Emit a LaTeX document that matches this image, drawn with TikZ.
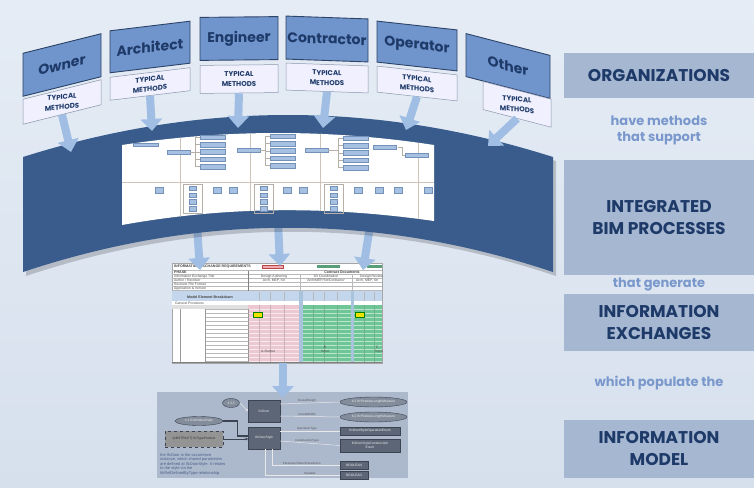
\documentclass[tikz,border=0pt]{standalone}
\usepackage{fontspec}
\setmainfont{Poppins}
\newfontfamily\arialf{Liberation Sans}
\usetikzlibrary{arrows.meta,shapes.geometric}
\definecolor{bgtop}{RGB}{229,236,245}
\definecolor{bgbot}{RGB}{214,224,237}
\definecolor{band}{RGB}{57,92,140}
\definecolor{orgfill}{RGB}{112,148,204}
\definecolor{orgline}{RGB}{45,68,105}
\definecolor{navy}{RGB}{30,58,105}
\definecolor{panelc}{RGB}{166,183,209}
\definecolor{conn}{RGB}{122,152,204}
\definecolor{arrowc}{RGB}{160,190,228}
\definecolor{mapbox}{RGB}{165,192,225}
\definecolor{mapedge}{RGB}{115,145,185}
\definecolor{mapline}{RGB}{205,195,185}
\definecolor{modelbg}{RGB}{172,184,204}
\definecolor{dkbox}{RGB}{92,102,118}
\definecolor{dkedge}{RGB}{60,68,82}
\definecolor{ellc}{RGB}{130,140,155}
\definecolor{pinkc}{RGB}{236,200,210}
\definecolor{greenc}{RGB}{110,198,150}
\definecolor{sepc}{RGB}{170,195,220}
\definecolor{hdrc}{RGB}{196,214,236}
\definecolor{gridc}{RGB}{185,185,185}
\begin{document}
\begin{tikzpicture}[x=1pt,y=-1pt,
  orgbox/.style={draw=orgline, line width=0.9pt, fill=orgfill, text=navy,
    font=\bfseries\fontsize{14}{16}\selectfont, inner sep=0pt, transform shape},
  methbox/.style={draw=orgline!55, line width=0.5pt, fill=white!94!blue, text=navy,
    font=\bfseries\fontsize{7}{10}\selectfont, align=center, inner sep=0pt, transform shape},
  methtext/.style={text=navy, font=\bfseries\fontsize{7}{10}\selectfont, align=center, inner sep=0pt, transform shape},
  bigarrow/.style={draw=arrowc, line width=8pt, -{Triangle[width=21pt,length=12pt]}},
  panel/.style={fill=panelc, text=navy, font=\bfseries\fontsize{17}{22}\selectfont,
    minimum width=190pt, inner sep=0pt, align=center},
  conntext/.style={text=conn, font=\bfseries\fontsize{13}{16}\selectfont, align=center, inner sep=0pt},
  tinyt/.style={font=\arialf\fontsize{3.4}{4}\selectfont, inner sep=0pt, text=black!70},
  tinyb/.style={font=\arialf\bfseries\fontsize{3.6}{4}\selectfont, inner sep=0pt, text=black!75},
  mell/.style={ellipse, draw=dkedge, fill=ellc, text=white!88!gray,
    font=\arialf\fontsize{3.3}{4}\selectfont, inner sep=0pt},
  mbox/.style={draw=dkedge, fill=dkbox, text=white!88!gray,
    font=\arialf\fontsize{3.3}{4}\selectfont, inner sep=0pt, align=center},
  mline/.style={draw=white!82!gray, line width=0.5pt},
  mlbl/.style={font=\arialf\fontsize{3}{3.5}\selectfont, text=black!65, inner sep=0.6pt},
  ]
\useasboundingbox (0,0) rectangle (754,487);
\shade[top color=bgtop, bottom color=bgbot] (0,0) rectangle (754,487);

% ---------- right column ----------
\node[panel, minimum height=45pt] (porg) at (659,75.5) {ORGANIZATIONS};
\node[panel, minimum height=115pt] (pbim) at (659,217.5) {INTEGRATED\\BIM PROCESSES};
\node[panel, minimum height=57pt] (pie) at (659,322.5) {INFORMATION\\EXCHANGES};
\node[panel, minimum height=58pt] (pim) at (659,449) {INFORMATION\\MODEL};
\node[conntext] (t1) at (659,130) {have methods\\that support};
\node[conntext] (t2) at (659,284) {that generate};
\node[conntext] (t3) at (659,383) {which populate the};

% ---------- spreadsheet ----------
\node[draw=gray!70, fill=white, minimum width=210pt, minimum height=100pt, inner sep=0pt] (ier) at (277,313) {};
\begin{scope}
\clip (172,263) rectangle (382,363);
\node[tinyb, anchor=west] (iert) at (174,266.8) {INFORMATION EXCHANGE REQUIREMENTS};
\filldraw[fill=pinkc!85!red, draw=red!45!gray, line width=0.3pt] (262,265.5) rectangle (283,268.3);
\filldraw[fill=greenc!80!black, draw=none] (317,265.3) rectangle (340,268.3);
\filldraw[fill=greenc!80!black, draw=none] (367,265.3) rectangle (385,268.3);
% header rows
\foreach \y in {270.5,274.5,278.5,282.5,286.5,290.5}
  \draw[gridc, line width=0.3pt] (172,\y) -- (382,\y);
\foreach \x in {248,300,352}
  \draw[gridc, line width=0.3pt] (\x,274.5) -- (\x,290.5);
\draw[gray, line width=0.4pt] (248,270.5) -- (248,290.5);
\node[tinyb, anchor=west] (ph) at (174,272.6) {PHASE};
\node[tinyt, anchor=west] (ph1) at (174,276.6) {Information Exchange Title};
\node[tinyt, anchor=west] (ph2) at (174,280.6) {Author / Receiver};
\node[tinyt, anchor=west] (ph3) at (174,284.6) {Receiver File Format};
\node[tinyt, anchor=west] (ph4) at (174,288.6) {Application \& Version};
\node[tinyb] (cd) at (342,272.6) {Contract Documents};
\node[tinyt] (c11) at (274,276.6) {Design Authoring};
\node[tinyt] (c12) at (326,276.6) {3D Coordination};
\node[tinyt, anchor=west] (c13) at (360,276.6) {Design Review};
\node[tinyt] (c21) at (274,280.6) {Arch, MEP, Str};
\node[tinyt] (c22) at (326,280.6) {Arch/MEP/Str/Contractor};
\node[tinyt, anchor=west] (c23) at (356,280.6) {Arch, MEP, Str};
% blue header row
\fill[hdrc] (172,290.5) rectangle (382,301);
\node[tinyb] (meb) at (210,297) {Model Element Breakdown};
\foreach \x in {259,270,284,313,324,337,364,374}
  \draw[gridc, line width=0.3pt] (\x,291.5) -- (\x,362);
\fill[white] (172,301) rectangle (382,305);
\node[tinyt, anchor=west] (gp) at (175,303.1) {General Provisions};
\fill[black!12] (172,305) rectangle (248,309);
% coloured areas
\fill[pinkc] (248,305) rectangle (299,362);
\fill[sepc] (299,291) rectangle (302.5,362);
\fill[greenc] (302.5,305) rectangle (350.5,362);
\fill[sepc] (350.5,291) rectangle (354,362);
\fill[greenc] (354,305) rectangle (382,362);
\foreach \y in {309,313,...,361}{
  \draw[white!60!pinkc, line width=0.3pt] (248,\y) -- (299,\y);
  \draw[white!55!greenc, line width=0.3pt] (302.5,\y) -- (350.5,\y);
  \draw[white!55!greenc, line width=0.3pt] (354,\y) -- (382,\y);
  \draw[gridc, line width=0.3pt] (205,\y) -- (248,\y);
}
\foreach \x in {259,270,284}
  \draw[pinkc!70!gray, line width=0.3pt] (\x,305) -- (\x,362);
\foreach \x in {313,324,337,364,374}
  \draw[greenc!70!gray, line width=0.3pt] (\x,305) -- (\x,362);
\foreach \x in {180,205,248}
  \draw[gray!80, line width=0.4pt] (\x,309) -- (\x,362);
\filldraw[fill=yellow!85!olive, draw=green!50!black, line width=0.3pt] (253,312.3) rectangle (262,316.8);
\filldraw[fill=yellow!85!olive, draw=green!50!black, line width=0.3pt] (355,312.3) rectangle (364,316.8);
\node[tinyt] (ao) at (268,351.5) {A-Output};
\node[tinyt] (bo1) at (325,347) {B};
\node[tinyt] (bo2) at (325,351.5) {Input};
\node[tinyt] (co1) at (377,347) {C};
\node[tinyt] (co2) at (379,351.5) {Input};
\draw[gray, line width=1pt] (172,362.3) -- (382,362.3);
\end{scope}

% ---------- information model ----------
\node[fill=modelbg, minimum width=251pt, minimum height=86pt, inner sep=0pt] (mdl) at (282.5,435) {};
\node[mell, minimum width=17pt, minimum height=9pt] (e335) at (231,403) {3.3.5};
\node[mbox, minimum width=32pt, minimum height=22pt] (door) at (264,411) {IfcDoor};
\node[mell, minimum width=48pt, minimum height=9pt] (e41) at (199,421) {4.1 IfcWindowStyle};
\node[mbox, fill=black!42, draw=dkedge, dashed, text=black!80, minimum width=58pt, minimum height=16pt] (typ) at (194,439) {(ABSTRACT) IfcTypeProduct};
\node[mbox, minimum width=32pt, minimum height=22pt] (dstyle) at (264,438) {IfcDoorStyle};
\node[mell, minimum width=67pt, minimum height=10pt] (m1) at (373.5,402) {6.2 IfcPositiveLengthMeasure};
\node[mell, minimum width=67pt, minimum height=10pt] (m2) at (373.5,417) {6.2 IfcPositiveLengthMeasure};
\node[mbox, minimum width=60pt, minimum height=8pt] (op) at (370,431) {IfcDoorStyleOperationEnum};
\node[mbox, minimum width=60pt, minimum height=13pt] (con) at (370,445.5) {IfcDoorStyleConstruction\\Enum};
\node[mbox, minimum width=28pt, minimum height=8pt] (b1) at (354,465) {BOOLEAN};
\node[mbox, minimum width=28pt, minimum height=8pt] (b2) at (354,475) {BOOLEAN};
\draw[mline, -{Circle[open,length=2.5pt]}] (e335.east) -- (door.west);
\draw[mline] ([yshift=7pt]door.east) -- node[mlbl, above, pos=0.45] {OverallHeight} (m1.west);
\draw[mline] ([yshift=-5pt]door.east) -- node[mlbl, above, pos=0.45] {OverallWidth} (m2.west);
\draw[mline] ([yshift=7pt]dstyle.east) -- node[mlbl, above, pos=0.45] {OperationType} (op.west);
\draw[mline] ([yshift=-3pt]dstyle.east) -- node[mlbl, above, pos=0.45] {ConstructionType} (con.west);
\draw[mline] ([xshift=8pt]dstyle.south) |- node[mlbl, above, pos=0.72] {ParameterTakesPrecedence} (b1.west);
\draw[mline] ([xshift=1pt]dstyle.south) |- node[mlbl, above, pos=0.8] {Sizeable} (b2.west);
\draw[dkedge, line width=1.3pt] (e41.east) -| ([xshift=-10pt,yshift=2pt]dstyle.west) -- ([yshift=2pt]dstyle.west);
\draw[dkedge, line width=0.6pt, -{Circle[open,length=2.5pt]}] (typ.east) -- node[mlbl, above, pos=0.85] {1} ([yshift=-1pt]dstyle.west);
\node[font=\arialf\fontsize{4}{4.6}\selectfont, text=navy!80, align=left, anchor=north west, inner sep=0pt] (note) at (160,453)
  {the IfcDoor is the occurrence\\instance, which shared parameters\\are defined at IfcDoorStyle. It relates\\to the style via the\\IfcRelDefinedByType relationship.};

% ---------- lower arrows ----------
\coordinate (la1) at (197,226); \coordinate (lb1) at (200,270);
\coordinate (la2) at (278,222); \coordinate (lb2) at (280,266);
\coordinate (la3) at (370,226); \coordinate (lb3) at (363,270);
\coordinate (lb4) at (283,398);
\draw[bigarrow] (la1) -- (lb1);
\draw[bigarrow] (la2) -- (lb2);
\draw[bigarrow] (la3) -- (lb3);
\draw[bigarrow] ([xshift=6pt]ier.south) -- (lb4);

% ---------- band ----------
\fill[black, opacity=0.18] (26,161) .. controls (203,105) and (379,105) .. (556,161) -- (556,276) .. controls (379,217) and (203,217) .. (26,276) -- cycle;
\fill[band] (23,157) .. controls (200,101) and (376,101) .. (553,157) -- (553,272) .. controls (376,213) and (200,213) .. (23,272) -- cycle;

% ---------- process map ----------
\begin{scope}
\clip (122,145) .. controls (227,129) and (329,129) .. (434,145) -- (434,221) .. controls (329,206) and (227,206) .. (122,225) -- cycle;
\fill[white] (100,100) rectangle (450,240);
\foreach \x in {180,250,320,418}
  \draw[mapline, line width=0.5pt] (\x,120) -- (\x,240);
\draw[mapline, line width=0.4pt] (100,182) -- (450,182);
\end{scope}
\tikzset{mapb/.style={fill=mapbox, draw=mapedge, line width=0.3pt}}
\filldraw[mapb] (133,143.5) rectangle (158,146.5);
\foreach \xa/\ya in {167/150, 237/148, 305/148, 373/145, 405/153}
  \filldraw[mapb] (\xa,\ya) rectangle (\xa+23,\ya+4);
\foreach \xa/\ya in {200/135, 270/134, 343/136}{
  \draw[mapline!70!gray, line width=0.3pt] (\xa-5,{\ya+2}) -- (\xa-5,{\ya+31.2});
  \foreach \k in {0,...,4}{
    \filldraw[mapb] (\xa,{\ya+7.3*\k}) rectangle (\xa+25,{\ya+7.3*\k+4.5});
    \draw[mapline!70!gray, line width=0.3pt] (\xa-5,{\ya+7.3*\k+2.2}) -- (\xa,{\ya+7.3*\k+2.2});
  }
}
\draw[mapline!70!gray, line width=0.3pt] (190,152) -- (195,152);
\draw[mapline!70!gray, line width=0.3pt] (260,150) -- (265,150);
\draw[mapline!70!gray, line width=0.3pt] (328,150) -- (338,150);
\draw[mapline!70!gray, line width=0.3pt] (398,147) -- (402,147) -- (402,155) -- (405,155);
\foreach \xa in {155,213,229,283,299,354,375,394,424}
  \filldraw[mapb] (\xa,187) rectangle (\xa+8,193.5);
\foreach \xa in {183,254,324}{
  \draw[mapline!70!gray, line width=0.3pt] (\xa,184) rectangle (\xa+19,213);
  \foreach \k in {0,...,3}
    \filldraw[mapb] (\xa+6,{186+6.8*\k}) rectangle (\xa+13,{190.5+6.8*\k});
}

% ---------- organisations ----------
\begin{scope}[shift={(62,65)}, yslant=0.25]
  \node[orgbox, minimum width=78pt, minimum height=43pt] (own) at (0,0) {Owner};
  \node[methbox, minimum width=78pt, minimum height=25pt] (ownm) at (0,37) {};
\end{scope}
\begin{scope}[shift={(62,102)}, yslant=0.1]
  \node[methtext] (ownmt) at (0,0) {TYPICAL\\METHODS};
\end{scope}
\begin{scope}[shift={(150,47)}, yslant=0.12]
  \node[orgbox, minimum width=80pt, minimum height=42pt] (arc) at (0,0) {Architect};
  \node[methbox, minimum width=80pt, minimum height=23pt] (arcm) at (0,37) {TYPICAL\\METHODS};
\end{scope}
\begin{scope}[shift={(239,38.5)}, yslant=0.01]
  \node[orgbox, minimum width=78pt, minimum height=43pt] (eng) at (0,0) {Engineer};
  \node[methbox, minimum width=78pt, minimum height=28pt] (engm) at (0,40.5) {TYPICAL\\METHODS};
\end{scope}
\begin{scope}[shift={(327,39)}, yslant=-0.035]
  \node[orgbox, minimum width=82pt, minimum height=43pt] (ctr) at (0,0) {Contractor};
  \node[methbox, minimum width=82pt, minimum height=27pt] (ctrm) at (0,39) {TYPICAL\\METHODS};
\end{scope}
\begin{scope}[shift={(417,46)}, yslant=-0.11]
  \node[orgbox, minimum width=80pt, minimum height=41pt] (opr) at (0,0) {Operator};
  \node[methbox, minimum width=80pt, minimum height=26pt] (oprm) at (0,37.5) {TYPICAL\\METHODS};
\end{scope}
\begin{scope}[shift={(508,66)}, yslant=-0.26]
  \node[orgbox, minimum width=84pt, minimum height=43pt] (oth) at (0,0) {Other};
  \node[methbox, minimum width=68pt, minimum height=28pt] (othm) at (9,36) {};
\end{scope}
\begin{scope}[shift={(517,104.3)}, yslant=-0.1]
  \node[methtext] (othmt) at (0,0) {TYPICAL\\METHODS};
\end{scope}

% ---------- upper arrows ----------
\coordinate (tw1) at (71,152);
\coordinate (tw2) at (152,131);
\coordinate (tw3) at (238,128);
\coordinate (tw4) at (323,128);
\coordinate (tw5) at (406,130);
\coordinate (tw6) at (488,146);
\draw[bigarrow] (ownm.south) -- (tw1);
\draw[bigarrow] (arcm.south) -- (tw2);
\draw[bigarrow] (engm.south) -- (tw3);
\draw[bigarrow] (ctrm.south) -- (tw4);
\draw[bigarrow] (oprm.south) -- (tw5);
\draw[bigarrow] (othm.south) -- (tw6);
\end{tikzpicture}
\end{document}
